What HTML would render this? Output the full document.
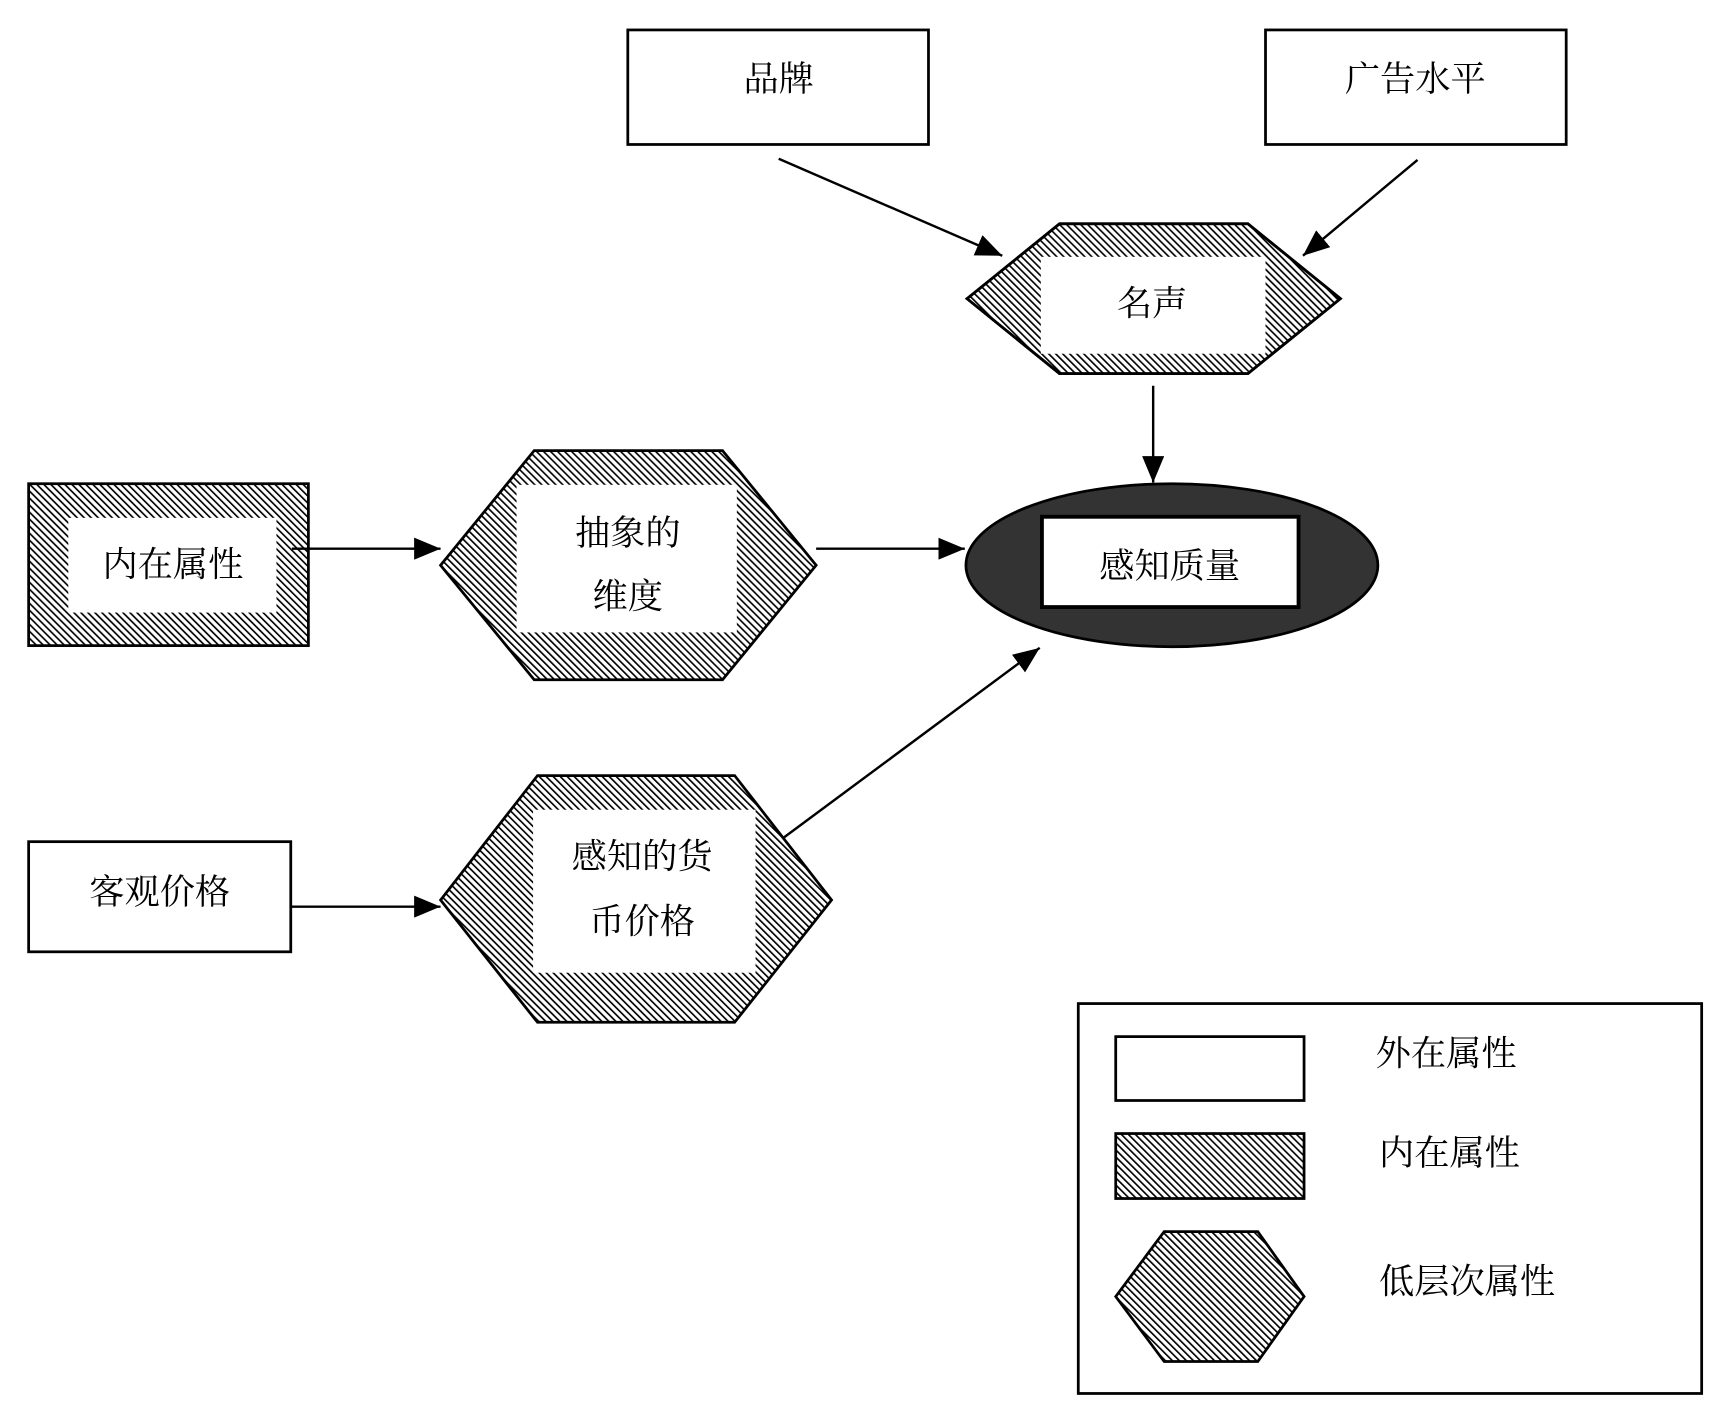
<!DOCTYPE html>
<html><head><meta charset="utf-8"><style>
html,body{margin:0;padding:0;background:#fff;}
svg{display:block;}
text{font-family:"Liberation Serif","Noto Serif CJK SC","Noto Sans CJK SC",serif;font-size:32px;fill:#000;text-anchor:middle;dominant-baseline:central;}
</style></head><body>
<svg width="1727" height="1419" viewBox="0 0 1568 1288" xmlns="http://www.w3.org/2000/svg">
<defs>
<pattern id="h" width="4.5" height="4.5" patternUnits="userSpaceOnUse" patternTransform="rotate(-45)">
<rect width="4.5" height="4.5" fill="#fff"/>
<rect x="0" y="0" width="1.5" height="4.5" fill="#000"/>
</pattern>
<marker id="b" markerWidth="24" markerHeight="20" refX="24" refY="10" orient="auto" markerUnits="userSpaceOnUse">
<path d="M0,0 L24,10 L0,20 z" fill="#000"/>
</marker>
<clipPath id="c1"><polygon points="878,271 962,203 1133,203 1217,271 1133,339 962,339"/></clipPath>
</defs>
<g stroke="#000" stroke-width="2.5">
<rect x="570" y="27" width="273" height="104" fill="#fff"/>
<rect x="1149" y="27" width="273" height="104" fill="#fff"/>
<polygon points="878,271 962,203 1133,203 1217,271 1133,339 962,339" fill="url(#h)"/>
</g>
<rect x="945" y="233" width="204" height="88" fill="#fff" clip-path="url(#c1)"/>
<polygon points="878,271 962,203 1133,203 1217,271 1133,339 962,339" fill="none" stroke="#000" stroke-width="2.5"/>
<g stroke="#000" stroke-width="2.5">
<ellipse cx="1064" cy="513" rx="187" ry="74" fill="#333"/>
<rect x="946" y="469" width="233" height="82" fill="#fff" stroke-width="3.5"/>
<rect x="26" y="439" width="254" height="147" fill="url(#h)"/>
<rect x="62" y="470" width="189" height="86" fill="#fff" stroke="none"/>
<polygon points="400,513 485,409 656,409 741,513 656,617 485,617" fill="url(#h)"/>
<rect x="469" y="440" width="200" height="134" fill="#fff" stroke="none"/>
<rect x="26" y="764" width="238" height="100" fill="#fff"/>
<polygon points="400,817 488,704 667,704 755,817 667,928 488,928" fill="url(#h)"/>
<rect x="484" y="735" width="202" height="148" fill="#fff" stroke="none"/>
<rect x="979" y="911" width="566" height="354" fill="#fff"/>
<rect x="1013" y="941" width="171" height="58" fill="#fff"/>
<rect x="1013" y="1029" width="171" height="59" fill="url(#h)"/>
<polygon points="1013,1177 1057,1118 1142,1118 1184,1177 1142,1236 1057,1236" fill="url(#h)"/>
</g>
<g stroke="#000" stroke-width="2.2" fill="none" marker-end="url(#b)">
<line x1="707" y1="144" x2="910" y2="232"/>
<line x1="1287" y1="145" x2="1183" y2="232"/>
<line x1="1047" y1="350" x2="1047" y2="438"/>
<line x1="265" y1="498" x2="400" y2="498"/>
<line x1="741" y1="498" x2="876" y2="498"/>
<line x1="265" y1="823" x2="400" y2="823"/>
<line x1="712" y1="760" x2="944" y2="588"/>
</g>
<text x="707" y="72">品牌</text>
<text x="1285" y="72">广告水平</text>
<text x="1046" y="276">名声</text>
<text x="1062" y="514">感知质量</text>
<text x="157" y="513">内在属性</text>
<text x="570" y="484">抽象的</text>
<text x="570" y="542">维度</text>
<text x="145" y="810">客观价格</text>
<text x="583" y="778">感知的货</text>
<text x="583" y="837">币价格</text>
<text x="1313" y="957">外在属性</text>
<text x="1316" y="1047">内在属性</text>
<text x="1332" y="1164">低层次属性</text>
</svg>
</body></html>
